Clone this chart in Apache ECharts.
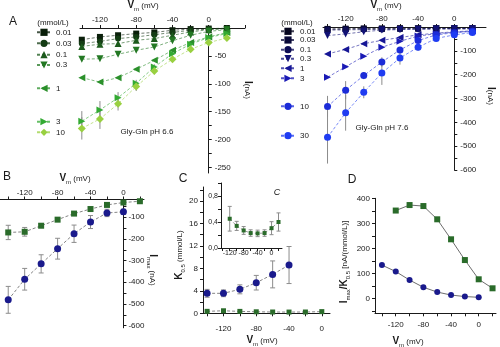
<!DOCTYPE html>
<html>
<head>
<meta charset="utf-8">
<script src="https://cdn.jsdelivr.net/npm/echarts@6/dist/echarts.min.js"></script>
<style>
  html, body { margin: 0; padding: 0; background: #fff; }
  #chart { width: 500px; height: 347px; }
</style>
</head>
<body>
<div id="chart"></div>
<script>
// ---------- data ----------
// membrane potential steps (mV)
const vFull = [-140, -120, -100, -80, -60, -40, -20, 0, 20];
const vTo0 = [-140, -120, -100, -80, -60, -40, -20, 0];
const vTo40 = [-140, -120, -100, -80, -60, -40];
const vFrom120 = [-120, -100, -80, -60, -40, -20, 0, 20];

// A, Gly-Gln pH 6.6: currents (nA) per concentration (mmol/L)
const concPH66 = ['0.01', '0.03', '0.1', '0.3', '1', '3', '10'];
const i66_c001 = [-21, -16, -13, -10, -8, -4, -2, -1, 0];
const i66_c003 = [-28, -24, -19, -16, -12, -8, -4, -2, -1];
const i66_c01 = [-33, -29, -28, -22, -19, -13, -7, -3, -1];
const i66_c03 = [-56, -55, -47, -40, -34, -23, -13, -6, -3];
const i66_c1 = [-89, -97, -89, -74, -58, -40, -26, -16, -8];
const i66_c3 = [-167, -147, -125, -99, -70, -46, -29, -17, -10];
const i66_c10 = [-180, -163, -136, -105, -77, -56, -38, -26, -18];
const i66_c3Err = [18, 16, 10, 6, 5, 4, 3, 2, 2];
const i66_c10Err = [20, 18, 12, 8, 6, 5, 4, 3, 3];

// A, Gly-Gln pH 7.6
const concPH76 = ['0.01', '0.03', '0.1', '0.3', '1', '3', '10', '30'];
const i76_c001 = [-8, -7, -6, -6, -5, -5, -5, -5, -5];
const i76_c003 = [-10, -9, -8, -8, -7, -7, -6, -6, -6];
const i76_c01 = [-13, -12, -11, -10, -9, -8, -8, -8, -8];
const i76_c03 = [-36, -29, -20, -13, -11, -9, -8, -7, -7];
const i76_c1 = [-113, -94, -70, -56, -44, -33, -26, -20, -16];
const i76_c3 = [-211, -167, -123, -85, -60, -38, -28, -22, -18];
const i76_c10 = [-334, -265, -204, -147, -96, -57, -33, -24, -18];
const i76_c30 = [-463, -360, -274, -193, -130, -85, -48, -33, -23];
const i76_c10Err = [45, 38, 15, 20, 12, 8, 5, 4, 3];
const i76_c30Err = [110, 75, 25, 50, 28, 15, 8, 6, 5];

// B, Imax (nA)
const imax66 = [-170, -167, -139, -111, -83, -62, -43, -32, -26];
const imax66Err = [33, 20, 8, 6, 5, 5, 4, 3, 3];
const imax76 = [-481, -386, -315, -245, -176, -122, -80, -75];
const imax76Err = [62, 50, 42, 48, 40, 30, 17, 12];

// C, K0.5 (mmol/L)
const k76 = [3.56, 3.56, 4.27, 5.45, 6.93, 8.6];
const k76Err = [0.7, 0.6, 0.8, 1.3, 2.4, 3.3];
const k66 = [0.35, 0.45, 0.34, 0.27, 0.23, 0.22, 0.23, 0.3];
const k66Err = [0.15, 0.15, 0.08, 0.06, 0.05, 0.05, 0.05, 0.1];
const k66Inset = [0.45, 0.34, 0.27, 0.23, 0.225, 0.23, 0.305, 0.40];
const k66InsetErr = [0.19, 0.07, 0.06, 0.05, 0.05, 0.05, 0.1, 0.14];

// D, Imax/K0.5
const ratio66 = [351, 373, 369, 316, 236, 153, 76, 40];
const ratio76 = [133, 107, 73, 44, 25, 13, 7, 4];

// axis label values
const vLabels = [-120, -80, -40, 0];

// ---------- styling helpers ----------
const FONT = "'Liberation Sans', Arial, Helvetica, sans-serif";
const INK = '#1a1a1a';
const GREEN = '#2a6b2a';
const NAVY = '#1a1a8c';
const greens = ['#0a1f0a', '#143c14', '#1b5a1b', '#237823', '#2b902b', '#33aa33', '#99d040'];
const blues = ['#06061f', '#0a0a38', '#0e0e55', '#121275', '#171796', '#1a1ab5', '#1c2cd8', '#1f3cf2'];
const TRI_DOWN = 'path://M0,0L10,0L5,9Z';
const TRI_LEFT = 'path://M10,0L10,10L1,5Z';
const TRI_RIGHT = 'path://M0,0L0,10L9,5Z';

function steps(a, b, d) {
  const out = [];
  for (let v = a; v <= b + 1e-9; v += d) out.push(+v.toFixed(3));
  return out;
}

function axis(o) {
  return {
    type: 'value', gridIndex: o.g, min: o.min, max: o.max, position: o.pos, offset: o.offset || 0,
    axisLine: { show: true, onZero: false, lineStyle: { color: INK, width: 1 } },
    axisTick: { show: true, length: 3, customValues: o.ticks, lineStyle: { color: INK, width: 1 } },
    axisLabel: {
      show: true, customValues: o.labels, fontSize: o.fs || 8, color: INK, fontFamily: FONT,
      margin: o.margin, formatter: o.fmt
    },
    splitLine: { show: false }
  };
}

function curve(name, xs, ys, g, color, symbol, size, opt) {
  opt = opt || {};
  return {
    type: 'line', name, xAxisIndex: g, yAxisIndex: g,
    data: xs.map((x, i) => [x, ys[i]]),
    symbol, symbolSize: size,
    itemStyle: { color, opacity: 1 },
    lineStyle: { color: opt.lineColor || color, width: opt.width || 0.8, type: opt.solid ? 'solid' : [3, 2], opacity: opt.lineOpacity || 0.75 },
    z: 3, silent: true, animation: false
  };
}

function errBars(xs, ys, es, g, cap) {
  return {
    type: 'custom', xAxisIndex: g, yAxisIndex: g, z: 2, silent: true, animation: false,
    data: xs.map((x, i) => [x, ys[i], es[i]]),
    renderItem: function (params, api) {
      const x = api.value(0), y = api.value(1), e = api.value(2);
      const p1 = api.coord([x, y + e]);
      const p2 = api.coord([x, y - e]);
      const st = { stroke: '#8c8c8c', lineWidth: 1 };
      const kids = [{ type: 'line', shape: { x1: p1[0], y1: p1[1], x2: p2[0], y2: p2[1] }, style: st }];
      if (cap) {
        [p1, p2].forEach(p => kids.push({ type: 'line', shape: { x1: p[0] - cap, y1: p[1], x2: p[0] + cap, y2: p[1] }, style: st }));
      }
      return { type: 'group', children: kids };
    }
  };
}

function legendEntry(name, text, left, cy) {
  return {
    left, top: cy - 5, padding: 0, itemWidth: 14, itemHeight: 9, itemGap: 0,
    selectedMode: false, data: [name], formatter: () => text,
    textStyle: { fontSize: 8, color: INK, fontFamily: FONT }
  };
}

const rich = {
  b: { fontSize: 10, fontWeight: 'bold', fontFamily: FONT, fill: INK, verticalAlign: 'bottom', padding: [0, 0, 2, 0] },
  s: { fontSize: 6, fontFamily: FONT, fill: INK, verticalAlign: 'bottom' },
  n: { fontSize: 8, fontFamily: FONT, fill: INK, verticalAlign: 'bottom', padding: [0, 0, 2, 0] }
};
function text(x, y, str, rot, extra) {
  return {
    type: 'text', x, y, rotation: rot || 0, silent: true, z: 10,
    style: Object.assign({ text: str, rich, fill: INK, fontFamily: FONT, fontSize: 8, align: 'center', verticalAlign: 'middle' }, extra || {})
  };
}

// ---------- layout ----------
const gridBoxes = [
  { left: 80, top: 28, width: 165, height: 145 },     // A, pH 6.6
  { left: 323, top: 27, width: 163, height: 143 },    // A, pH 7.6
  { left: 0, top: 199.5, width: 144, height: 128.3 }, // B
  { left: 203, top: 187, width: 127, height: 126.3 }, // C
  { left: 221, top: 183, width: 61, height: 65 },     // C inset
  { left: 375, top: 198.3, width: 121, height: 115 }  // D
];
const grids = gridBoxes.map(g => Object.assign({ containLabel: false, outerBoundsMode: 'none' }, g));

const xRanges = [[-142, 40], [-145, 35], [-150, 25], [-145, 10], [-145, 30], [-150, 25]];
// distance from a grid's right edge back to its 0 mV position (the current axes cross there)
function zeroOffset(g) {
  const b = gridBoxes[g], r = xRanges[g];
  return -(b.width * (r[1] - 0) / (r[1] - r[0]));
}

const xAxes = [
  axis({ g: 0, min: xRanges[0][0], max: xRanges[0][1], pos: 'top', labels: vLabels, ticks: steps(-140, 40, 20), margin: 4 }),
  axis({ g: 1, min: xRanges[1][0], max: xRanges[1][1], pos: 'top', labels: vLabels, ticks: steps(-140, 20, 20), margin: 4 }),
  axis({ g: 2, min: xRanges[2][0], max: xRanges[2][1], pos: 'top', labels: vLabels, ticks: steps(-140, 20, 20), margin: 3 }),
  axis({ g: 3, min: xRanges[3][0], max: xRanges[3][1], pos: 'bottom', labels: vLabels, ticks: steps(-140, 0, 20), margin: 11 }),
  axis({ g: 4, min: xRanges[4][0], max: xRanges[4][1], pos: 'bottom', labels: vLabels, ticks: steps(-140, 20, 20), margin: 2, fs: 7 }),
  axis({ g: 5, min: xRanges[5][0], max: xRanges[5][1], pos: 'bottom', labels: vLabels, ticks: steps(-140, 20, 20), margin: 7 })
];
const yAxes = [
  axis({ g: 0, min: -260, max: 0, pos: 'right', offset: zeroOffset(0), labels: steps(-250, -50, 50), ticks: steps(-250, 0, 25), margin: 6 }),
  axis({ g: 1, min: -600, max: 0, pos: 'right', offset: zeroOffset(1), labels: steps(-600, -100, 100), ticks: steps(-600, 0, 50), margin: 6 }),
  axis({ g: 2, min: -610, max: -18, pos: 'right', offset: zeroOffset(2), labels: steps(-600, -100, 100), ticks: steps(-600, -50, 50), margin: 5 }),
  axis({ g: 3, min: 0, max: 22.5, pos: 'left', labels: steps(0, 20, 4), ticks: steps(0, 22, 2), margin: 5 }),
  axis({ g: 4, min: 0, max: 1, pos: 'left', labels: [0, 0.4, 0.8], ticks: steps(0, 1, 0.2), margin: 3, fs: 7,
         fmt: v => v.toFixed(1).replace('.', ',') }),
  axis({ g: 5, min: -60, max: 400, pos: 'left', labels: steps(0, 400, 100), ticks: steps(-50, 400, 50), margin: 5 })
];

// ---------- series ----------
const series = [];
const sym66 = ['rect', 'circle', 'triangle', TRI_DOWN, TRI_LEFT, TRI_RIGHT, 'diamond'];
const size66 = [6, 6, 7, 7, 7, 7, 8];
const data66 = [i66_c001, i66_c003, i66_c01, i66_c03, i66_c1, i66_c3, i66_c10];
const sym76 = ['rect', 'rect', 'circle', TRI_DOWN, TRI_LEFT, TRI_RIGHT, 'circle', 'circle'];
const size76 = [6, 6, 6, 7, 7, 7, 7, 7];
const data76 = [i76_c001, i76_c003, i76_c01, i76_c03, i76_c1, i76_c3, i76_c10, i76_c30];

series.push(errBars(vFull, i66_c3, i66_c3Err, 0, 0));
series.push(errBars(vFull, i66_c10, i66_c10Err, 0, 0));
series.push(errBars(vFull, i76_c10, i76_c10Err, 1, 0));
series.push(errBars(vFull, i76_c30, i76_c30Err, 1, 0));
concPH66.forEach((c, i) => series.push(curve('pH 6.6|' + c, vFull, data66[i], 0, greens[i], sym66[i], size66[i])));
concPH76.forEach((c, i) => series.push(curve('pH 7.6|' + c, vFull, data76[i], 1, blues[i], sym76[i], size76[i])));

// B
series.push(errBars(vFull, imax66, imax66Err, 2, 2.5));
series.push(errBars(vTo0, imax76, imax76Err, 2, 2.5));
series.push(curve('Imax 6.6', vFull, imax66, 2, GREEN, 'rect', 6, { lineColor: '#333' }));
series.push(curve('Imax 7.6', vTo0, imax76, 2, NAVY, 'circle', 7, { lineColor: '#333' }));

// C
series.push(errBars(vTo40, k76, k76Err, 3, 2.5));
series.push(curve('K 7.6', vTo40, k76, 3, NAVY, 'circle', 7, { lineColor: '#333' }));
series.push(curve('K 6.6', vTo0, k66, 3, GREEN, 'rect', 5, { lineColor: '#333' }));
series.push(errBars(vFrom120, k66Inset, k66InsetErr, 4, 2));
series.push(curve('K 6.6 inset', vFrom120, k66Inset, 4, GREEN, 'rect', 4, { lineColor: '#555' }));

// D
series.push(curve('ratio 6.6', vFrom120, ratio66, 5, GREEN, 'rect', 6, { lineColor: '#333', solid: true, lineOpacity: 0.9 }));
series.push(curve('ratio 7.6', vTo0, ratio76, 5, NAVY, 'circle', 6, { lineColor: '#333', solid: true, lineOpacity: 0.9 }));

// ---------- legends ----------
const legY66 = [33.3, 44.3, 55.7, 66, 89.3, 122.7, 133.3];
const legY76 = [32.3, 41, 50.7, 59.7, 69.3, 79.3, 107.3, 136.7];
const legends = [];
concPH66.forEach((c, i) => legends.push(legendEntry('pH 6.6|' + c, c, 36, legY66[i])));
concPH76.forEach((c, i) => legends.push(legendEntry('pH 7.6|' + c, c, 280, legY76[i])));

// ---------- text ----------
const VM = '{b|V}{s|m}{n| (mV)}';
const graphics = [
  text(13, 22, 'A', 0, { fontSize: 12 }),
  text(7, 177, 'B', 0, { fontSize: 12 }),
  text(183, 179, 'C', 0, { fontSize: 12 }),
  text(352, 180, 'D', 0, { fontSize: 12 }),
  text(143, 6, VM),
  text(386, 6, VM),
  text(75, 179, VM),
  text(262, 341, VM),
  text(408, 342, VM),
  text(247, 90, '{b|I}{n|(nA)}', -Math.PI / 2),
  text(490, 96, '{b|I}{n|(nA)}', -Math.PI / 2),
  text(152, 270, '{b|I}{s|max}{n| (nA)}', -Math.PI / 2),
  text(180, 255, '{b|K}{s|0.5}{n| (mmol/L)}', Math.PI / 2),
  text(345, 262, '{b|I}{s|max}{b|/K}{s|0.5}{n| [nA/(mmol/L)]}', Math.PI / 2),
  text(53, 23, '(mmol/L)'),
  text(297, 23, '(mmol/L)'),
  text(147, 132, 'Gly-Gln pH 6.6'),
  text(382, 128, 'Gly-Gln pH 7.6'),
  text(277, 192, 'C', 0, { fontStyle: 'italic', fontSize: 9 })
];

const chart = echarts.init(document.getElementById('chart'), null, { renderer: 'canvas' });
chart.setOption({
  animation: false,
  backgroundColor: '#fff',
  textStyle: { fontFamily: FONT },
  grid: grids,
  xAxis: xAxes,
  yAxis: yAxes,
  legend: legends,
  series,
  graphic: graphics
});
</script>
</body>
</html>
